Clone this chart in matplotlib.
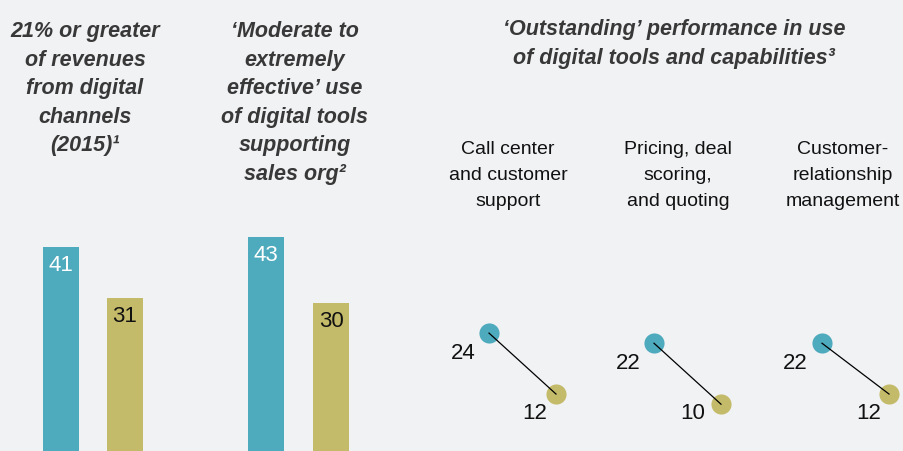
import matplotlib
matplotlib.use('Agg')
import matplotlib.pyplot as plt

# Bar panels: digital leaders (teal) vs others (olive)
bar_titles = [
    "21% or greater\nof revenues\nfrom digital\nchannels\n(2015)\u00b9",
    "\u2018Moderate to\nextremely\neffective\u2019 use\nof digital tools\nsupporting\nsales org\u00b2",
]
bar_leaders = [41, 43]
bar_others = [31, 30]

# Dot panels
dot_title = "\u2018Outstanding\u2019 performance in use\nof digital tools and capabilities\u00b3"
dot_categories = ["Call center\nand customer\nsupport",
                  "Pricing, deal\nscoring,\nand quoting",
                  "Customer-\nrelationship\nmanagement"]
dot_leaders = [24, 22, 22]
dot_others = [12, 10, 12]

TEAL = '#4eaabd'
OLIVE = '#c4bb6a'
BG = '#f1f2f4'
TITLE_C = '#383838'

plt.rcParams['font.family'] = ['Liberation Sans', 'DejaVu Sans']

fig = plt.figure(figsize=(9.04, 4.52), dpi=100, facecolor=BG)
ax = fig.add_axes([0, 0, 1, 1])
ax.set_facecolor(BG)
ax.set_xlim(0, 904)
# zero sits just below the bottom edge, ~5.08 px per unit
px_per_unit = 5.08
zero_px = 456
ax.set_ylim((zero_px - 452) / px_per_unit, zero_px / px_per_unit)
ax.axis('off')

# layout (x in pixel units)
bar_w = 36
lead_x = [61, 266]
other_x = [125, 331]
title_x = [85, 295]
dot_lead_x = [489, 654, 822]
dot_other_x = [556, 721, 889]
cat_x = [508, 678, 843]

ax.bar(lead_x, bar_leaders, width=bar_w, color=TEAL, linewidth=0)
ax.bar(other_x, bar_others, width=bar_w, color=OLIVE, linewidth=0)
for x, v in zip(lead_x, bar_leaders):
    ax.annotate(str(v), (x, v), xytext=(0, -18), textcoords='offset pixels',
                ha='center', va='center', fontsize=16, color='white')
for x, v in zip(other_x, bar_others):
    ax.annotate(str(v), (x, v), xytext=(0, -18), textcoords='offset pixels',
                ha='center', va='center', fontsize=16, color='#111111')

for x, t in zip(title_x, bar_titles):
    ax.text(x, 1 - 21 / 452, t, transform=ax.get_xaxis_transform(),
            ha='center', va='top', fontsize=15.5, fontweight='bold',
            fontstyle='italic', color=TITLE_C, linespacing=1.47)

ax.text(674, 1 - 19 / 452, dot_title, transform=ax.get_xaxis_transform(),
        ha='center', va='top', fontsize=15.5, fontweight='bold',
        fontstyle='italic', color=TITLE_C, linespacing=1.47)

for x, t in zip(cat_x, dot_categories):
    ax.text(x, 1 - 141 / 452, t, transform=ax.get_xaxis_transform(),
            ha='center', va='top', fontsize=14, color='#111111',
            linespacing=1.68)

# dumbbell dots
for i in range(len(dot_categories)):
    ax.plot([dot_lead_x[i], dot_other_x[i]], [dot_leaders[i], dot_others[i]],
            color='black', lw=0.9, zorder=3)
ax.scatter(dot_lead_x, dot_leaders, s=210, color=TEAL, linewidths=0, zorder=2)
ax.scatter(dot_other_x, dot_others, s=210, color=OLIVE, linewidths=0, zorder=2)

lead_offsets = [(-26, -19), (-26, -19), (-27, -19)]
other_offsets = [(-21, -18), (-28, -8), (-20, -18)]
for x, v, off in zip(dot_lead_x, dot_leaders, lead_offsets):
    ax.annotate(str(v), (x, v), xytext=off, textcoords='offset pixels',
                ha='center', va='center', fontsize=16, color='#111111')
for x, v, off in zip(dot_other_x, dot_others, other_offsets):
    ax.annotate(str(v), (x, v), xytext=off, textcoords='offset pixels',
                ha='center', va='center', fontsize=16, color='#111111')

fig.savefig('out.png', dpi=100, facecolor=BG)
